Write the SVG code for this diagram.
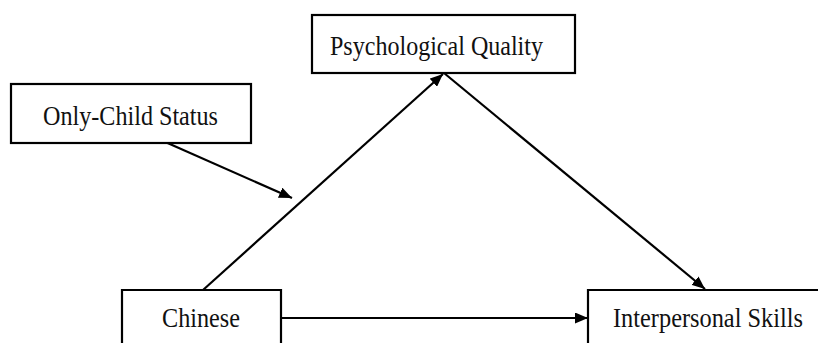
<svg xmlns="http://www.w3.org/2000/svg" width="818" height="343" viewBox="0 0 818 343">
<style>
.box{fill:#fff;stroke:#000;stroke-width:2.2}
.t{font-family:"Liberation Serif","Times New Roman",serif;font-size:27px;fill:#111}
.c{stroke:#000;stroke-width:2.2;fill:none;marker-end:url(#ah)}
</style>
<defs>
<marker id="ah" viewBox="0 0 13 11" refX="13" refY="5.5" markerWidth="13" markerHeight="11" markerUnits="userSpaceOnUse" orient="auto">
<path d="M0,0 L13,5.5 L0,11 z" fill="#000"/>
</marker>
</defs>
<rect width="818" height="343" fill="#fff"/>
<g id="connectors">
<line class="c" x1="203" y1="290" x2="443" y2="74"/>
<line class="c" x1="444" y1="73" x2="705" y2="289"/>
<line class="c" x1="163" y1="141" x2="292" y2="198"/>
<line class="c" x1="281" y1="318" x2="588" y2="318"/>
</g>
<g id="psych">
<rect class="box" x="312" y="15" width="263" height="58"/>
<text class="t" x="330" y="55" textLength="213" lengthAdjust="spacingAndGlyphs">Psychological Quality</text>
</g>
<g id="only">
<rect class="box" x="11" y="84" width="240" height="59"/>
<text class="t" x="43" y="125" textLength="175" lengthAdjust="spacingAndGlyphs">Only-Child Status</text>
</g>
<g id="chinese">
<path class="box" d="M122,343 V290 H281 V343"/>
<text class="t" x="162" y="327" textLength="78" lengthAdjust="spacingAndGlyphs">Chinese</text>
</g>
<g id="interpersonal">
<path class="box" d="M588,343 V290 H818"/>
<text class="t" x="613" y="327" textLength="190" lengthAdjust="spacingAndGlyphs">Interpersonal Skills</text>
</g>
</svg>
